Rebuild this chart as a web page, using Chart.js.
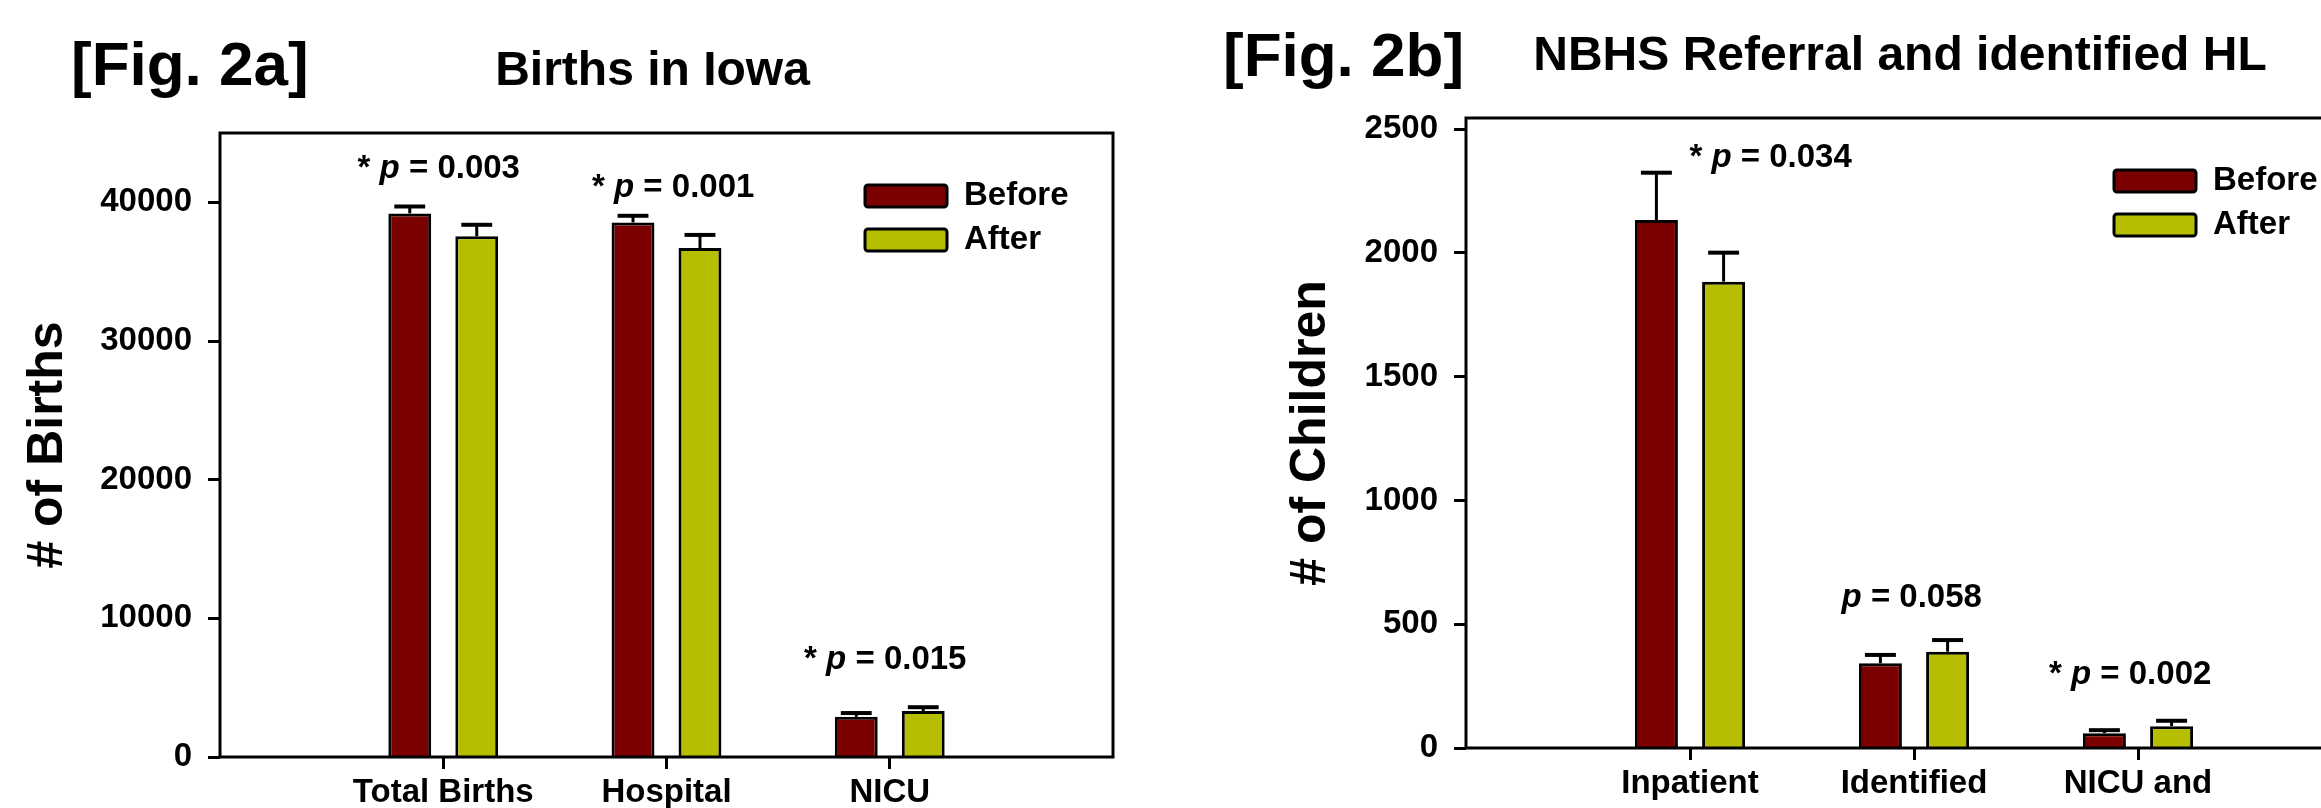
<!DOCTYPE html>
<html>
<head>
<meta charset="utf-8">
<script src="https://cdn.jsdelivr.net/npm/chart.js@4.4.1/dist/chart.umd.min.js"></script>
<style>
  html, body { margin: 0; padding: 0; background: #fff; overflow: hidden; width: 2321px; height: 808px; }
  canvas { position: absolute; top: 0; }
  #fig2a { left: 0; }
  #fig2b { left: 1160px; }
</style>
</head>
<body>
<canvas id="fig2a" width="1160" height="817"></canvas>
<canvas id="fig2b" width="1250" height="808"></canvas>
<script>
// Fig. 2a - births in Iowa (empty slots at both ends leave the gaps of the original)
var categoriesA = ['', 'Total Births', 'Hospital', 'NICU', ''];
var beforeA = [null, 39200, 38550, 2900, null];
var afterA = [null, 37550, 36700, 3320, null];
var beforeErrA = [null, 500, 480, 270, null];
var afterErrA = [null, 830, 950, 270, null];
var yTicksA = [0, 10000, 20000, 30000, 40000];
var pTextA = [null, '* p = 0.003', '* p = 0.001', '* p = 0.015', null];
var pAtA = [null, 41730, 40400, 6320, null];      // label baseline, in data units
var pShiftA = [0, -0.02, 0.03, -0.02, 0];          // share of a category step

// Fig. 2b - NBHS referral and identified HL
var categoriesB = ['', 'Inpatient', 'Identified', 'NICU and', ''];
var beforeB = [null, 2133, 342, 60, null];
var afterB = [null, 1884, 389, 88, null];
var beforeErrB = [null, 191, 34, 12, null];
var afterErrB = [null, 117, 47, 22, null];
var yTicksB = [0, 500, 1000, 1500, 2000, 2500];
var pTextB = [null, '* p = 0.034', 'p = 0.058', '* p = 0.002', null];
var pAtB = [null, 2348, 571, 257, null];
var pShiftB = [0, 0.36, -0.01, -0.035, 0];

var FONT = "'Liberation Sans', Arial, Helvetica, sans-serif";
var BEFORE_COLOR = '#7B0000';
var AFTER_COLOR = '#B5BE00';

Chart.defaults.font.family = FONT;
Chart.defaults.color = '#000';

// p = ... with an italic p
function drawPText(ctx, text, x, y) {
  var normal = 'bold 33px ' + FONT;
  var italic = 'italic bold 33px ' + FONT;
  var parts = text.split(' ');
  ctx.font = normal;
  var space = ctx.measureText(' ').width;
  var widths = parts.map(function(p) {
    ctx.font = (p === 'p') ? italic : normal;
    return ctx.measureText(p).width;
  });
  var total = widths.reduce(function(a, b) { return a + b; }, 0) + space * (parts.length - 1);
  var cx = x - total / 2;
  ctx.textAlign = 'left';
  ctx.textBaseline = 'alphabetic';
  parts.forEach(function(p, i) {
    ctx.font = (p === 'p') ? italic : normal;
    ctx.fillText(p, cx, y);
    cx += widths[i] + space;
  });
}

var decorPlugin = {
  id: 'decor',
  afterDatasetsDraw: function(chart, args, o) {
    var ctx = chart.ctx;
    var area = chart.chartArea;
    var xs = chart.scales.x, ys = chart.scales.y;
    ctx.save();
    ctx.strokeStyle = '#000';
    ctx.fillStyle = '#000';

    // error bars (upper half only)
    chart.data.datasets.forEach(function(ds, di) {
      var meta = chart.getDatasetMeta(di);
      var errs = o.errors[di];
      meta.data.forEach(function(bar, i) {
        if (ds.data[i] == null) return;
        var top = ys.getPixelForValue(ds.data[i] + errs[i]);
        var half = bar.width * 0.36;
        ctx.lineWidth = 3;
        ctx.beginPath();
        ctx.moveTo(bar.x, bar.y);
        ctx.lineTo(bar.x, top);
        ctx.stroke();
        ctx.lineWidth = 4;
        ctx.beginPath();
        ctx.moveTo(bar.x - half, top);
        ctx.lineTo(bar.x + half, top);
        ctx.stroke();
      });
    });

    // frame
    ctx.lineWidth = 3;
    ctx.strokeRect(area.left, area.top, area.right - area.left, area.bottom - area.top);

    // p values
    var step = xs.getPixelForValue(1) - xs.getPixelForValue(0);
    o.pText.forEach(function(t, i) {
      if (!t) return;
      drawPText(ctx, t, xs.getPixelForValue(i) + o.pShift[i] * step, ys.getPixelForValue(o.pAt[i]));
    });

    // legend
    chart.data.datasets.forEach(function(ds, k) {
      var bx = area.right - 248;
      var by = area.top + 52 + k * 44;
      ctx.beginPath();
      ctx.roundRect(bx, by, 82, 22, 3);
      ctx.fillStyle = ds.backgroundColor;
      ctx.fill();
      ctx.lineWidth = 3;
      ctx.stroke();
      ctx.fillStyle = '#000';
      ctx.font = 'bold 33px ' + FONT;
      ctx.textAlign = 'left';
      ctx.textBaseline = 'middle';
      ctx.fillText(ds.label, bx + 99, by + 11);
    });

    // figure tag and title
    ctx.textBaseline = 'alphabetic';
    ctx.textAlign = 'left';
    ctx.font = 'bold 62px ' + FONT;
    ctx.fillText(o.tag, o.tagX, o.tagY);
    ctx.textAlign = 'center';
    ctx.font = 'bold 48px ' + FONT;
    ctx.fillText(o.title, (area.left + area.right) / 2 - 14, area.top - 48);
    ctx.restore();
  }
};

function buildChart(canvasId, s) {
  var tickFont = { size: 33, weight: 'bold' };
  return new Chart(document.getElementById(canvasId).getContext('2d'), {
    type: 'bar',
    data: {
      labels: s.labels,
      datasets: [
        { label: 'Before', data: s.before, backgroundColor: BEFORE_COLOR, borderColor: '#000',
          borderWidth: 3, categoryPercentage: 0.6, barPercentage: 0.64 },
        { label: 'After', data: s.after, backgroundColor: AFTER_COLOR, borderColor: '#000',
          borderWidth: 3, categoryPercentage: 0.6, barPercentage: 0.64 }
      ]
    },
    options: {
      responsive: false,
      animation: false,
      devicePixelRatio: 1,
      layout: { padding: s.padding },
      plugins: {
        legend: { display: false },
        tooltip: { enabled: false },
        decor: {
          errors: [s.beforeErr, s.afterErr],
          pText: s.pText, pAt: s.pAt, pShift: s.pShift,
          tag: s.tag, tagX: s.tagX, tagY: s.tagY, title: s.title
        }
      },
      scales: {
        x: {
          offset: false,
          grid: {
            offset: false, drawOnChartArea: false, tickLength: 12, tickWidth: 3,
            tickColor: function(c) { return c.tick && c.tick.label ? '#000' : 'rgba(0,0,0,0)'; }
          },
          border: { display: false },
          ticks: { font: tickFont, color: '#000', padding: 4, maxRotation: 0, autoSkip: false },
          afterFit: function(sc) { sc.height = 60; }
        },
        y: {
          min: 0,
          max: s.yMax,
          afterBuildTicks: function(sc) { sc.ticks = s.yTicks.map(function(v) { return { value: v }; }); },
          grid: { drawOnChartArea: false, tickLength: 12, tickWidth: 3, tickColor: '#000' },
          border: { display: false },
          ticks: { font: tickFont, color: '#000', padding: 16, callback: function(v) { return String(v); } },
          title: { display: true, text: s.yTitle, color: '#000', font: { size: 50, weight: 'bold' },
                   padding: { top: 0, bottom: 7 } },
          afterFit: function(sc) { sc.width = s.yWidth; }
        }
      }
    },
    plugins: [decorPlugin]
  });
}

buildChart('fig2a', {
  labels: categoriesA, before: beforeA, after: afterA, beforeErr: beforeErrA, afterErr: afterErrA,
  yTicks: yTicksA, yMax: 45000, yTitle: '# of Births', yWidth: 202,
  pText: pTextA, pAt: pAtA, pShift: pShiftA,
  tag: '[Fig. 2a]', tagX: 71, tagY: 85, title: 'Births in Iowa',
  padding: { left: 18, right: 47, top: 133, bottom: 0 }
});

buildChart('fig2b', {
  labels: categoriesB, before: beforeB, after: afterB, beforeErr: beforeErrB, afterErr: afterErrB,
  yTicks: yTicksB, yMax: 2545, yTitle: '# of Children', yWidth: 185,
  pText: pTextB, pAt: pAtB, pShift: pShiftB,
  tag: '[Fig. 2b]', tagX: 63, tagY: 76, title: 'NBHS Referral and identified HL',
  padding: { left: 121, right: 48, top: 118, bottom: 0 }
});
</script>
</body>
</html>
